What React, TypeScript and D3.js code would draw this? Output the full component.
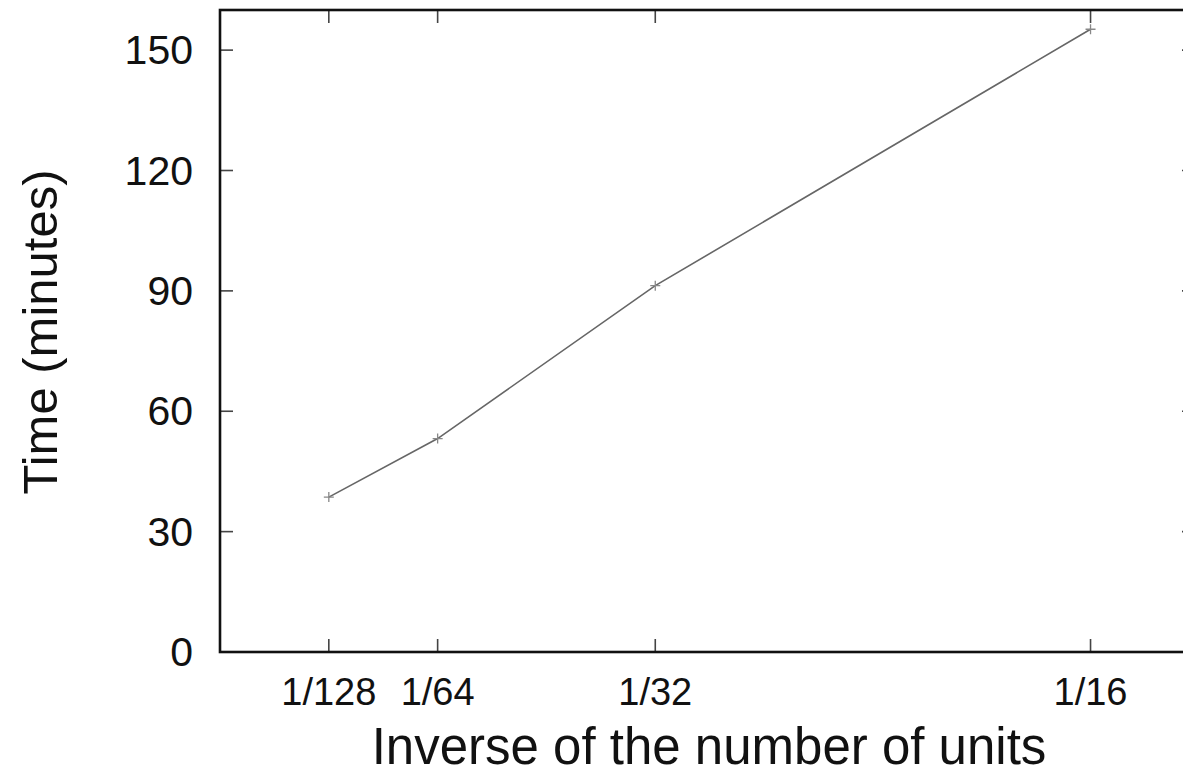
import React, { useEffect, useRef } from "react";
import * as d3 from "d3";

// values
const units = [1 / 128, 1 / 64, 1 / 32, 1 / 16];
const unitLabels = ["1/128", "1/64", "1/32", "1/16"];
const minutes = [38.6, 53.2, 91.3, 155.2];
const yTicks = [0, 30, 60, 90, 120, 150];

const width = 1183;
const height = 774;
const margin = { top: 10, right: -12, bottom: 122, left: 220 };

export default function App() {
    const ref = useRef<SVGSVGElement>(null);

    useEffect(() => {
        const svg = d3.select(ref.current);
        svg.selectAll("*").remove();

        const innerWidth = width - margin.left - margin.right;
        const innerHeight = height - margin.top - margin.bottom;

        const xScale = d3.scaleLinear().domain([0, 0.07]).range([0, innerWidth]);
        const yScale = d3.scaleLinear().domain([0, 160]).range([innerHeight, 0]);

        const g = svg.append("g").attr("transform", `translate(${margin.left}, ${margin.top})`);
        const font = "'Liberation Sans', Arial, sans-serif";

        // inward ticks on all four sides, gnuplot style
        const tick = 13;
        g.selectAll(".xtick").data(units).enter().append("g").each(function (d) {
            const x = xScale(d);
            const sel = d3.select(this);
            sel.append("line").attr("x1", x).attr("x2", x).attr("y1", innerHeight).attr("y2", innerHeight - tick);
            sel.append("line").attr("x1", x).attr("x2", x).attr("y1", 0).attr("y2", tick);
        }).selectAll("line").attr("stroke", "#444").attr("stroke-width", 1.6);

        g.selectAll(".ytick").data(yTicks).enter().append("g").each(function (d) {
            const y = yScale(d);
            const sel = d3.select(this);
            sel.append("line").attr("x1", 0).attr("x2", tick).attr("y1", y).attr("y2", y);
            sel.append("line").attr("x1", innerWidth).attr("x2", innerWidth - tick).attr("y1", y).attr("y2", y);
        }).selectAll("line").attr("stroke", "#444").attr("stroke-width", 1.6);

        // frame
        g.append("rect")
            .attr("x", 0).attr("y", 0)
            .attr("width", innerWidth).attr("height", innerHeight)
            .attr("fill", "none")
            .attr("stroke", "#111")
            .attr("stroke-width", 2.6);

        // tick labels
        g.selectAll(".xlabel").data(units).enter().append("text")
            .attr("x", d => xScale(d))
            .attr("y", innerHeight + 53)
            .attr("text-anchor", "middle")
            .style("font-family", font)
            .style("font-size", "38px")
            .attr("fill", "#111")
            .text((d, i) => unitLabels[i]);

        g.selectAll(".ylabel").data(yTicks).enter().append("text")
            .attr("x", -27)
            .attr("y", d => yScale(d) + 14)
            .attr("text-anchor", "end")
            .style("font-family", font)
            .style("font-size", "41px")
            .attr("fill", "#111")
            .text(d => d);

        // the series
        const pts = units.map((u, i) => [xScale(u), yScale(minutes[i])] as [number, number]);
        g.append("path")
            .attr("d", d3.line()(pts))
            .attr("fill", "none")
            .attr("stroke", "#666")
            .attr("stroke-width", 1.6);

        g.selectAll(".pt").data(pts).enter().append("path")
            .attr("d", d => `M${d[0] - 5},${d[1]}H${d[0] + 5}M${d[0]},${d[1] - 5}V${d[1] + 5}`)
            .attr("stroke", "#888")
            .attr("stroke-width", 1.3);

        // axis titles
        svg.append("text")
            .attr("x", 709)
            .attr("y", 764)
            .attr("text-anchor", "middle")
            .style("font-family", font)
            .style("font-size", "51px")
            .attr("fill", "#111")
            .text("Inverse of the number of units");

        svg.append("text")
            .attr("transform", "translate(57, 332) rotate(-90)")
            .attr("text-anchor", "middle")
            .style("font-family", font)
            .style("font-size", "49px")
            .attr("fill", "#111")
            .text("Time (minutes)");
    }, []);

    return (
        <svg ref={ref} width={width} height={height}
            style={{ position: "absolute", left: 0, top: 0, background: "#fff" }} />
    );
}
